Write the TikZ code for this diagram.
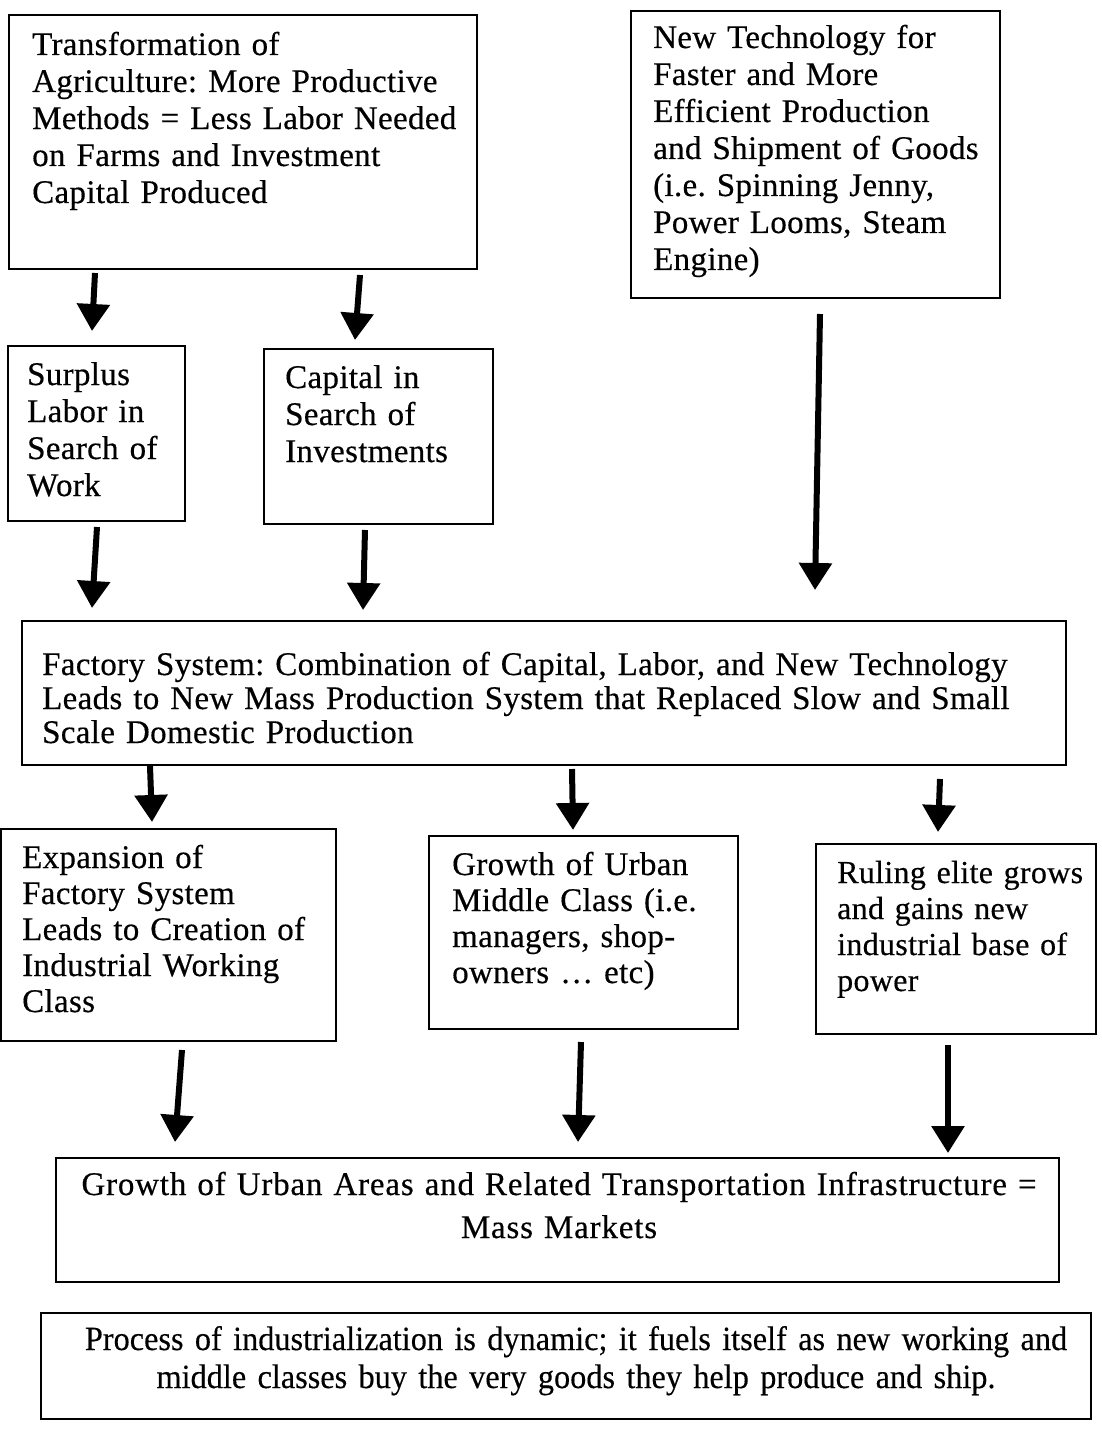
\documentclass[tikz,border=0pt]{standalone}
\usepackage{fontspec}
\setmainfont{Liberation Serif}[LetterSpace=1,FakeBold=0.4]
\newfontfamily\widefont{Liberation Serif}[LetterSpace=2.5,FakeBold=0.4]
\newfontfamily\condfont{Liberation Serif}[FakeStretch=0.95,FakeBold=0.3]
\usetikzlibrary{arrows.meta,calc}
\frenchspacing
\begin{document}
\begin{tikzpicture}[x=1pt,y=-1pt,
  box/.style={draw=black,line width=2pt,anchor=north west,inner sep=0pt},
  txt/.style={anchor=base west,inner sep=0pt,align=left,text width=1000pt,
    font=\fontsize{33}{37}\selectfont},
  ctxt/.style={anchor=base,inner sep=0pt,align=center,text width=1040pt,
    font=\condfont\fontsize{34}{38}\selectfont},
  arr/.style={line width=6pt,-{Triangle[width=32pt,length=27pt]}}]
\path[fill=white] (0,0) rectangle (1102,1437);
\useasboundingbox (0,0) rectangle (1102,1437);
% boxes
\node[box,minimum width=468pt,minimum height=254pt] (top1) at (8,14) {};
\node[box,minimum width=369pt,minimum height=287pt] (tech) at (630,10) {};
\node[box,minimum width=177pt,minimum height=175pt] (surplus) at (7,345) {};
\node[box,minimum width=229pt,minimum height=175pt] (capital) at (263,348) {};
\node[box,minimum width=1044pt,minimum height=144pt] (factory) at (21,620) {};
\node[box,minimum width=335pt,minimum height=212pt] (expansion) at (0,828) {};
\node[box,minimum width=309pt,minimum height=193pt] (middle) at (428,835) {};
\node[box,minimum width=280pt,minimum height=190pt] (ruling) at (815,843) {};
\node[box,minimum width=1003pt,minimum height=124pt] (urban) at (55,1157) {};
\node[box,minimum width=1050pt,minimum height=106pt] (process) at (40,1312) {};
% texts
\node[txt] (top1t) at (32,55) {Transformation of\\Agriculture: More Productive\\Methods = Less Labor Needed\\on Farms and Investment\\Capital Produced};
\node[txt] (techt) at (653,48) {New Technology for\\Faster and More\\Efficient Production\\and Shipment of Goods\\(i.e. Spinning Jenny,\\Power Looms, Steam\\Engine)};
\node[txt] (surplust) at (27,385) {Surplus\\Labor in\\Search of\\Work};
\node[txt] (capitalt) at (285,388) {Capital in\\Search of\\Investments};
\node[txt,font=\fontsize{33}{34}\selectfont] (factoryt) at (42,675) {Factory System: Combination of Capital, Labor, and New Technology\\Leads to New Mass Production System that Replaced Slow and Small\\Scale Domestic Production};
\node[txt,font=\fontsize{33}{36}\selectfont] (expansiont) at (22,868) {Expansion of\\Factory System\\Leads to Creation of\\Industrial Working\\Class};
\node[txt,font=\fontsize{33}{36}\selectfont] (middlet) at (452,875) {Growth of Urban\\Middle Class (i.e.\\managers, shop-\\owners \ldots\ etc)};
\node[txt,font=\fontsize{32}{36}\selectfont] (rulingt) at (837,883) {Ruling elite grows\\and gains new\\industrial base of\\power};
\node[txt,anchor=base,align=center,text width=1000pt,font=\widefont\fontsize{33}{43}\selectfont] (urbant) at (559,1195) {Growth of Urban Areas and Related Transportation Infrastructure =\\Mass Markets};
\node[ctxt] (processt) at (576,1350) {Process of industrialization is dynamic; it fuels itself as new working and\\middle classes buy the very goods they help produce and ship.};
% arrows
\draw[arr] ($(top1.south west)+(87,3)$) -- ($(surplus.north west)+(85,-14)$);
\draw[arr] ($(top1.south west)+(352,5)$) -- ($(capital.north west)+(92,-8)$);
\draw[arr] ($(tech.south west)+(190,15)$) -- ($(factory.north west)+(794,-30)$);
\draw[arr] ($(surplus.south west)+(90,5)$) -- ($(factory.north west)+(71,-12)$);
\draw[arr] ($(capital.south west)+(102,5)$) -- ($(factory.north west)+(342,-10)$);
\draw[arr] ($(factory.south west)+(129,0)$) -- ($(expansion.north west)+(152,-6)$);
\draw[arr] ($(factory.south west)+(551,3)$) -- ($(middle.north west)+(145,-5)$);
\draw[arr] ($(factory.south west)+(919,13)$) -- ($(ruling.north west)+(123,-11)$);
\draw[arr] ($(expansion.south west)+(182,8)$) -- ($(urban.north west)+(120,-15)$);
\draw[arr] ($(middle.south west)+(153,12)$) -- ($(urban.north west)+(523,-15)$);
\draw[arr] ($(ruling.south west)+(133,10)$) -- ($(urban.north west)+(893,-4)$);
\end{tikzpicture}
\end{document}
